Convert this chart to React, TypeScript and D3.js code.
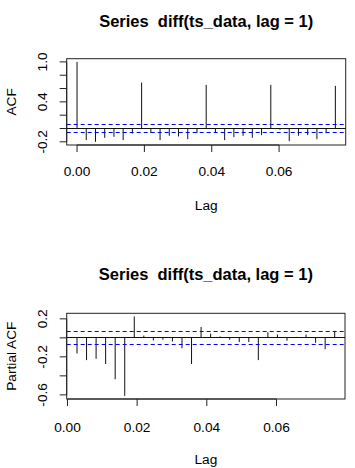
import React from "react";
import * as d3 from "d3";

const frequency = 365;
const acfLagIndex = [0,1,2,3,4,5,6,7,8,9,10,11,12,13,14,15,16,17,18,19,20,21,22,23,24,25,26,27,28];
const acfValues = [1.0, -0.175, -0.2, -0.14, -0.125, -0.175, -0.075, 0.69, -0.07, -0.175, -0.11, -0.12, -0.16, -0.07, 0.655, -0.06, -0.175, -0.13, -0.11, -0.14, -0.1, 0.655, -0.02, -0.19, -0.11, -0.1, -0.16, -0.07, 0.64];
const pacfLagIndex = [1,2,3,4,5,6,7,8,9,10,11,12,13,14,15,16,17,18,19,20,21,22,23,24,25,26,27,28];
const pacfValues = [-0.164, -0.234, -0.22, -0.275, -0.436, -0.61, 0.225, 0.024, -0.028, -0.02, -0.038, -0.11, -0.275, 0.115, 0.045, 0.015, -0.02, -0.045, -0.045, -0.234, 0.06, 0.035, -0.03, 0.01, 0.035, -0.052, -0.12, 0.073];
const ciBound = 0.066;
const xTicks = [0, 0.02, 0.04, 0.06];
const acfYTicks = [-0.2, 0, 0.2, 0.4, 0.6, 0.8, 1.0];
const acfYLabels = [-0.2, 0.4, 1.0];
const pacfYTicks = [-0.6, -0.4, -0.2, 0, 0.2];
const pacfYLabels = [-0.6, -0.2, 0.2];
const title = "Series  diff(ts_data, lag = 1)";

const FONT = "'Liberation Sans', Arial, sans-serif";

type PanelProps = {
  lags: number[];
  values: number[];
  yTicks: number[];
  yLabels: number[];
  ylab: string;
  box: { x0: number; x1: number; y0: number; y1: number };
  titleY: number;
  tickLabelY: number;
  xlabY: number;
};

function pad(ext: [number, number]): [number, number] {
  const r = ext[1] - ext[0];
  return [ext[0] - 0.04 * r, ext[1] + 0.04 * r];
}

const snap = (v: number) => Math.round(v - 0.5) + 0.5;

function Panel({ lags, values, yTicks, yLabels, ylab, box, titleY, tickLabelY, xlabY }: PanelProps) {
  const xs = lags.map((l) => l / frequency);
  const x = d3.scaleLinear().domain(pad(d3.extent(xs) as [number, number])).range([box.x0, box.x1]);
  const yExt: [number, number] = [
    Math.min(d3.min(values)!, -ciBound),
    Math.max(d3.max(values)!, ciBound),
  ];
  const y = d3.scaleLinear().domain(pad(yExt)).range([box.y1, box.y0]);
  const cx = (box.x0 + box.x1) / 2;
  const cy = (box.y0 + box.y1) / 2;
  const fmtX = d3.format(".2f");
  const fmtY = d3.format(".1f");
  const visibleX = xTicks.filter((t) => x(t) >= box.x0 - 0.5 && x(t) <= box.x1 + 0.5);
  return (
    <g>
      <text x={cx} y={titleY} textAnchor="middle" fontFamily={FONT} fontWeight="bold" fontSize={16.5} fill="#000" style={{ whiteSpace: "pre" }}>
        {title}
      </text>
      <rect x={box.x0} y={box.y0} width={box.x1 - box.x0} height={box.y1 - box.y0} fill="none" stroke="#222" strokeWidth={1} />
      {/* spikes */}
      {xs.map((v, i) => (
        <line key={"s" + i} x1={x(v)} x2={x(v)} y1={y(0)} y2={y(values[i])} stroke="#111" strokeWidth={1} />
      ))}
      {/* zero line */}
      <line x1={box.x0} x2={box.x1} y1={snap(y(0))} y2={snap(y(0))} stroke="#111" strokeWidth={1} />
      {/* CI */}
      <line x1={box.x0} x2={box.x1} y1={snap(y(ciBound))} y2={snap(y(ciBound))} stroke="#0000ff" strokeWidth={1} strokeDasharray="4,3" />
      <line x1={box.x0} x2={box.x1} y1={snap(y(-ciBound))} y2={snap(y(-ciBound))} stroke="#0000ff" strokeWidth={1} strokeDasharray="4,3" />
      {/* x axis */}
      <line x1={x(visibleX[0])} x2={x(visibleX[visibleX.length - 1])} y1={box.y1} y2={box.y1} stroke="#222" />
      {visibleX.map((t) => (
        <g key={t}>
          <line x1={x(t)} x2={x(t)} y1={box.y1} y2={box.y1 + 7} stroke="#222" />
          <text x={x(t)} y={tickLabelY} textAnchor="middle" fontFamily={FONT} fontSize={13.7} fill="#000">
            {fmtX(t)}
          </text>
        </g>
      ))}
      <text x={cx} y={xlabY} textAnchor="middle" fontFamily={FONT} fontSize={13.7} fill="#000">
        Lag
      </text>
      {/* y axis */}
      <line x1={box.x0} x2={box.x0} y1={y(yTicks[0])} y2={y(yTicks[yTicks.length - 1])} stroke="#222" />
      {yTicks.map((t) => (
        <line key={t} x1={box.x0 - 7} x2={box.x0} y1={y(t)} y2={y(t)} stroke="#222" />
      ))}
      {yLabels.map((t) => (
        <text key={t} transform={`translate(47,${y(t)}) rotate(-90)`} textAnchor="middle" fontFamily={FONT} fontSize={13.7} fill="#000">
          {fmtY(t).replace("−", "-")}
        </text>
      ))}
      <text transform={`translate(16,${cy}) rotate(-90)`} textAnchor="middle" fontFamily={FONT} fontSize={13.7} fill="#000">
        {ylab}
      </text>
    </g>
  );
}

export default function App() {
  return (
    <svg width={355} height={468} style={{ position: "absolute", left: 0, top: 0, background: "#fff" }}>
      <rect width={355} height={468} fill="#fff" />
      <Panel
        lags={acfLagIndex}
        values={acfValues}
        yTicks={acfYTicks}
        yLabels={acfYLabels}
        ylab="ACF"
        box={{ x0: 66.7, x1: 345.7, y0: 58.7, y1: 145 }}
        titleY={27}
        tickLabelY={176}
        xlabY={209.5}
      />
      <Panel
        lags={pacfLagIndex}
        values={pacfValues}
        yTicks={pacfYTicks}
        yLabels={pacfYLabels}
        ylab="Partial ACF"
        box={{ x0: 66.7, x1: 345, y0: 313.3, y1: 399 }}
        titleY={280}
        tickLabelY={431.5}
        xlabY={463.5}
      />
    </svg>
  );
}
